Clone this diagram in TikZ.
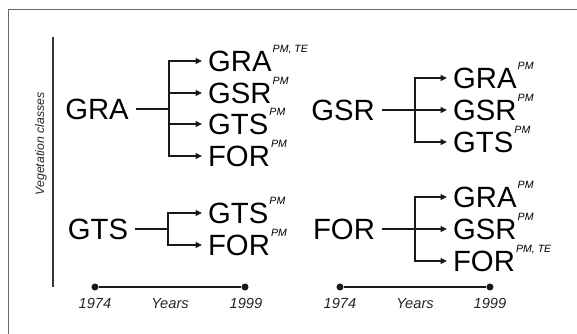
\documentclass[tikz,border=0pt]{standalone}
\usepackage{fontspec}
\setmainfont{Liberation Sans}
\usetikzlibrary{arrows.meta,positioning}
\newcommand{\clsup}[1]{\raisebox{16.5pt}{\kern1pt\fontsize{9}{9}\selectfont\itshape #1}}
\tikzset{
  cls/.style={inner xsep=6pt, inner ysep=0pt, text height=18pt, text depth=0pt,
              font=\fontsize{25}{28}\selectfont},
  res/.style={cls, anchor=west, inner xsep=5pt},
  link/.style={line width=1.25pt, black!90},
  arr/.style={link, -{Triangle[length=5.5pt,width=5pt]}},
  dot/.style={circle, fill=black!90, inner sep=0pt, minimum size=6pt},
  yr/.style={anchor=base, inner sep=0pt, font=\fontsize{12.5}{14}\selectfont\itshape, black!85},
  frame/.style={line width=1.4pt, black!60},
}

\begin{document}
\begin{tikzpicture}[x=0.03cm, y=-0.03cm]
  \useasboundingbox (0,0) rectangle (577,334);
  % frame and axis
  \draw[frame] (577,9.5) -| (8.5,334);
  \draw[line width=1.3pt, black!80] (53,37) -- (53,287);
  \node[rotate=90, inner sep=0pt, font=\fontsize{10.5}{12}\selectfont\itshape, black!85]
       (vc) at (41,144) {Vegetation classes};

  % GRA in 1974
  \node[cls] (gra) at (97,109) {GRA};
  \coordinate (b1) at (169,109);
  \node[res] (gra-gra) at (202,61)  {GRA\clsup{PM, TE}};
  \node[res] (gra-gsr) at (202,93)  {GSR\clsup{PM}};
  \node[res] (gra-gts) at (202,124) {GTS\clsup{PM}};
  \node[res] (gra-for) at (202,156) {FOR\clsup{PM}};
  \draw[link] (gra) -- (b1);
  \foreach \t in {gra-gra,gra-gsr,gra-gts,gra-for}
    \draw[arr] (b1) |- (\t.west);

  % GSR in 1974
  \node[cls] (gsr) at (343,110) {GSR};
  \coordinate (b2) at (415,110);
  \node[res] (gsr-gra) at (447,78)  {GRA\clsup{PM}};
  \node[res] (gsr-gsr) at (447,110) {GSR\clsup{PM}};
  \node[res] (gsr-gts) at (447,142) {GTS\clsup{PM}};
  \draw[link] (gsr) -- (b2);
  \foreach \t in {gsr-gra,gsr-gsr,gsr-gts}
    \draw[arr] (b2) |- (\t.west);

  % GTS in 1974
  \node[cls] (gts) at (98,229) {GTS};
  \coordinate (b3) at (168,229);
  \node[res] (gts-gts) at (202,213) {GTS\clsup{PM}};
  \node[res] (gts-for) at (202,245) {FOR\clsup{PM}};
  \draw[link] (gts) -- (b3);
  \foreach \t in {gts-gts,gts-for}
    \draw[arr] (b3) |- (\t.west);

  % FOR in 1974
  \node[cls] (for) at (344,229) {FOR};
  \coordinate (b4) at (415,229);
  \node[res] (for-gra) at (447,197) {GRA\clsup{PM}};
  \node[res] (for-gsr) at (447,229) {GSR\clsup{PM}};
  \node[res] (for-for) at (447,261) {FOR\clsup{PM, TE}};
  \draw[link] (for) -- (b4);
  \foreach \t in {for-gra,for-gsr,for-for}
    \draw[arr] (b4) |- (\t.west);

  % time lines
  \node[dot] (l74) at (95,287) {};
  \node[dot] (l99) at (245,287) {};
  \draw[line width=1.3pt, black!90] (l74) -- (l99);
  \node[yr] at (95,308)  {1974};
  \node[yr] at (170,308) {Years};
  \node[yr] at (246,308) {1999};

  \node[dot] (r74) at (340,287) {};
  \node[dot] (r99) at (490,287) {};
  \draw[line width=1.3pt, black!90] (r74) -- (r99);
  \node[yr] at (340,308) {1974};
  \node[yr] at (415,308) {Years};
  \node[yr] at (490,308) {1999};
\end{tikzpicture}
\end{document}
